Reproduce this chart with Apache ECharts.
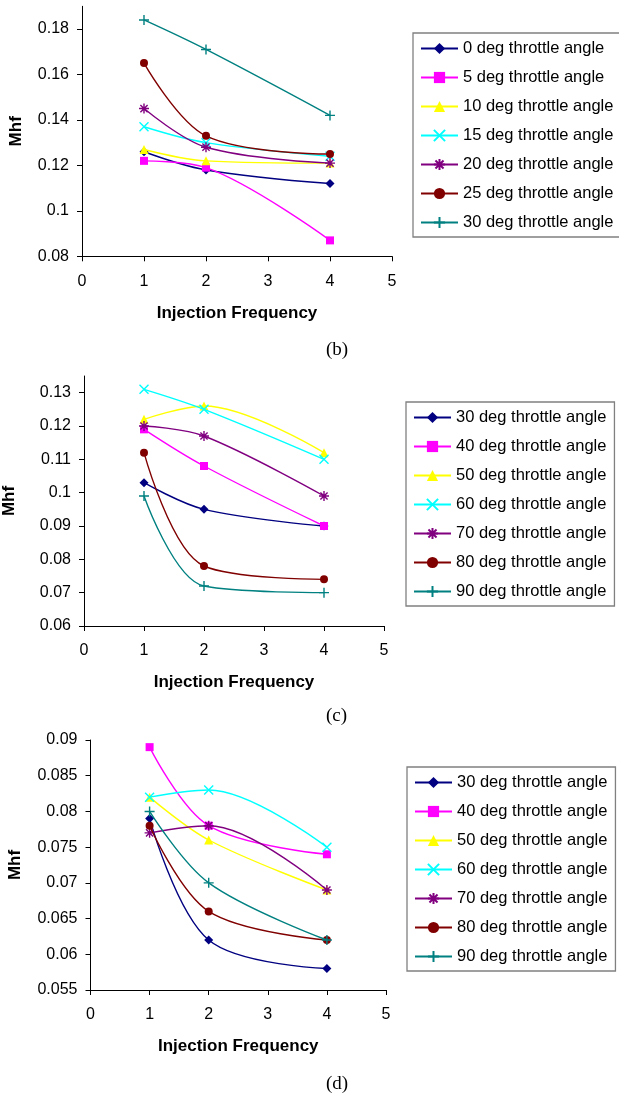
<!DOCTYPE html>
<html><head><meta charset="utf-8">
<script src="https://cdn.jsdelivr.net/npm/echarts@6/dist/echarts.min.js"></script>
<style>html,body{margin:0;padding:0;background:#fff}#c{width:619px;height:1104px}</style>
</head><body><div id="c"></div>
<script>
// ---- data ----
const injectionFrequency = [1, 2, 4];
const xTicks = [0, 1, 2, 3, 4, 5];

const namesB = ['0 deg throttle angle','5 deg throttle angle','10 deg throttle angle','15 deg throttle angle','20 deg throttle angle','25 deg throttle angle','30 deg throttle angle'];
const namesCD = ['30 deg throttle angle','40 deg throttle angle','50 deg throttle angle','60 deg throttle angle','70 deg throttle angle','80 deg throttle angle','90 deg throttle angle'];

const mhfB = [
  [0.126, 0.118, 0.112],
  [0.122, 0.119, 0.087],
  [0.127, 0.122, 0.121],
  [0.137, 0.130, 0.124],
  [0.145, 0.128, 0.121],
  [0.165, 0.133, 0.125],
  [0.184, 0.171, 0.142]
];
const mhfC = [
  [0.103, 0.095, 0.090],
  [0.119, 0.108, 0.090],
  [0.122, 0.126, 0.112],
  [0.131, 0.125, 0.110],
  [0.120, 0.117, 0.099],
  [0.112, 0.078, 0.074],
  [0.099, 0.072, 0.070]
];
const mhfD = [
  [0.079, 0.062, 0.058],
  [0.089, 0.078, 0.074],
  [0.082, 0.076, 0.069],
  [0.082, 0.083, 0.075],
  [0.077, 0.078, 0.069],
  [0.078, 0.066, 0.062],
  [0.080, 0.070, 0.062]
];

// ---- styles ----
const colors = ['#000080','#FF00FF','#FFFF00','#00FFFF','#800080','#800000','#008080'];
const symX = 'path://M-5,-5L5,5M-5,5L5,-5';
const symStar = 'path://M0,-5L0,5M-5,0L5,0M-3.6,-3.6L3.6,3.6M-3.6,3.6L3.6,-3.6';
const symPlus = 'path://M0,-5L0,5M-5,0L5,0';
const symbols = [
  {s:'diamond', size:9, stroke:false},
  {s:'rect', size:8, stroke:false},
  {s:'triangle', size:9, stroke:false},
  {s:symX, size:9, stroke:true},
  {s:symStar, size:10, stroke:true},
  {s:'circle', size:8, stroke:false},
  {s:symPlus, size:10, stroke:true}
];

const font = 'Arial, "Liberation Sans", sans-serif';

const panels = [
  {id:'b', names:namesB, data:mhfB, grid:{left:82, top:6.3, width:310, height:250}, min:0.08, max:0.19, interval:0.02, yGap:57, xGap:48.5,
   legend:{left:413, top:33}},
  {id:'c', names:namesCD, data:mhfC, grid:{left:83, top:376, width:301, height:250}, min:0.06, max:0.135, interval:0.01, yGap:66, xGap:47.5,
   legend:{left:406, top:402}},
  {id:'d', names:namesCD, data:mhfD, grid:{left:90.5, top:740, width:295.5, height:250}, min:0.055, max:0.09, interval:0.005, yGap:67, xGap:47.5,
   legend:{left:407, top:767}}
];

const grids = [], xAxes = [], yAxes = [], series = [], legends = [];
panels.forEach((p, gi) => {
  grids.push(p.grid);
  xAxes.push({
    type:'value', gridIndex:gi, min:xTicks[0], max:xTicks[xTicks.length-1], interval:1,
    name:'Injection Frequency', nameLocation:'middle', nameGap:p.xGap,
    nameTextStyle:{fontFamily:font, fontWeight:'bold', fontSize:17, color:'#000'},
    axisLine:{lineStyle:{color:'#000', width:1}},
    axisTick:{show:true, inside:false, length:5, lineStyle:{color:'#000'}},
    axisLabel:{fontFamily:font, fontSize:16, color:'#000', margin:17},
    splitLine:{show:false}
  });
  yAxes.push({
    type:'value', gridIndex:gi, min:p.min, max:p.max, interval:p.interval,
    name:'Mhf', nameLocation:'middle', nameGap:p.yGap, nameRotate:90,
    nameTextStyle:{fontFamily:font, fontWeight:'bold', fontSize:17, color:'#000'},
    axisLine:{show:true, lineStyle:{color:'#000', width:1}},
    axisTick:{show:true, inside:false, length:5, lineStyle:{color:'#000'}},
    axisLabel:{fontFamily:font, fontSize:16, color:'#000', margin:13, showMaxLabel: (p.id==='d'),
      formatter: v => String(parseFloat(v.toFixed(4)))},
    splitLine:{show:false}
  });
  const legendNames = [];
  p.names.forEach((nm, si) => {
    const key = p.id + '|' + nm;
    legendNames.push(key);
    const sy = symbols[si];
    series.push({
      type:'line', name:key, xAxisIndex:gi, yAxisIndex:gi,
      data: injectionFrequency.map((x, k) => [x, p.data[si][k]]),
      smooth:0.35,
      symbol:sy.s, symbolSize:sy.size, showAllSymbol:true,
      lineStyle:{color:colors[si], width:1.4},
      itemStyle:{color: sy.stroke ? 'rgba(0,0,0,0)' : colors[si], borderColor:colors[si], borderWidth: sy.stroke ? 1.4 : 0},
      emphasis:{disabled:true},
      z: 2 + si,
      animation:false
    });
  });
  legends.push({
    orient:'vertical', left:p.legend.left, top:p.legend.top,
    data:legendNames, formatter: n => n.split('|')[1],
    itemWidth:37, itemHeight:14, itemGap:12,
    padding:[7,8,6,7], borderColor:'#808080', borderWidth:1.3, backgroundColor:'#fff',
    textStyle:{fontFamily:font, fontSize:16.5, color:'#000', lineHeight:16},
    selectedMode:false
  });
});

const chart = echarts.init(document.getElementById('c'), null, {renderer:'canvas'});
chart.setOption({
  backgroundColor:'#fff',
  animation:false,
  grid:grids, xAxis:xAxes, yAxis:yAxes, series:series, legend:legends,
  graphic:[
    {type:'text', left:326, top:341, style:{text:'(b)', font:'19px "Liberation Serif", "Times New Roman", serif', fill:'#000'}},
    {type:'text', left:326, top:707, style:{text:'(c)', font:'19px "Liberation Serif", "Times New Roman", serif', fill:'#000'}},
    {type:'text', left:326, top:1075, style:{text:'(d)', font:'19px "Liberation Serif", "Times New Roman", serif', fill:'#000'}}
  ]
});
</script>
</body></html>
